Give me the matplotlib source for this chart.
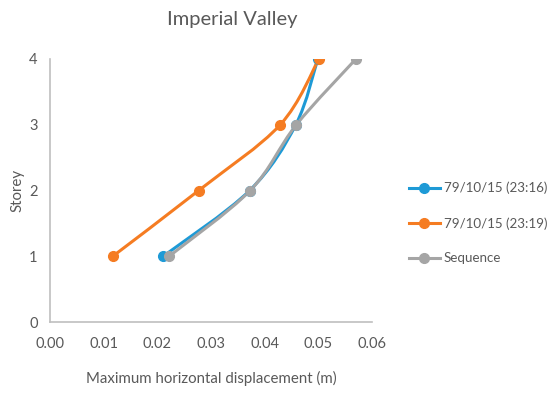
import matplotlib
matplotlib.use("Agg")
import matplotlib.pyplot as plt
from matplotlib.path import Path
from matplotlib.patches import PathPatch
from matplotlib.lines import Line2D

storeys = [1, 2, 3, 4]
disp_2316 = [0.0211, 0.0372, 0.0458, 0.0499]
disp_2319 = [0.0117, 0.0277, 0.0429, 0.0501]
disp_seq = [0.0222, 0.0373, 0.0459, 0.0570]
series_names = ["79/10/15 (23:16)", "79/10/15 (23:19)", "Sequence"]
colors = ["#1E9AD6", "#F57C22", "#A5A5A5"]
xticks = [0.00, 0.01, 0.02, 0.03, 0.04, 0.05, 0.06]
yticks = [0, 1, 2, 3, 4]

plt.rcParams['font.family'] = ['Lato', 'DejaVu Sans']
txt = "#595959"

fig = plt.figure(figsize=(5.5, 3.93), dpi=100)
ax = fig.add_axes([50/550, 1-322/393, 322/550, 263/393])


def smooth_path(xs, ys, t=1/6):
    pts = list(zip(xs, ys))
    n = len(pts)
    verts = [pts[0]]
    codes = [Path.MOVETO]
    for i in range(n - 1):
        p0 = pts[i - 1] if i > 0 else pts[i]
        p1 = pts[i]
        p2 = pts[i + 1]
        p3 = pts[i + 2] if i + 2 < n else pts[i + 1]
        c1 = (p1[0] + (p2[0] - p0[0]) * t, p1[1] + (p2[1] - p0[1]) * t)
        c2 = (p2[0] - (p3[0] - p1[0]) * t, p2[1] - (p3[1] - p1[1]) * t)
        verts += [c1, c2, p2]
        codes += [Path.CURVE4] * 3
    return Path(verts, codes)


data = [disp_2316, disp_2319, disp_seq]
handles = []
for xs, c, name in zip(data, colors, series_names):
    patch = PathPatch(smooth_path(xs, storeys), facecolor='none', edgecolor=c,
                      lw=2.2, transform=ax.transData, capstyle='round')
    ax.add_patch(patch)
    ax.plot(xs, storeys, linestyle='none', marker='o', ms=7, color=c)
    handles.append(Line2D([0], [0], color=c, lw=2.2, marker='o', ms=7, label=name))

ax.set_xlim(0, 0.06)
ax.set_ylim(0, 4)
ax.set_xticks(xticks)
ax.set_xticklabels([f"{v:.2f}" for v in xticks])
ax.set_yticks(yticks)
ax.tick_params(length=0, colors=txt, labelsize=10.5, pad=11)
ax.tick_params(axis='y', pad=9)
for s in ['top', 'right']:
    ax.spines[s].set_visible(False)
for s in ['left', 'bottom']:
    ax.spines[s].set_color('#BFBFBF')
    ax.spines[s].set_linewidth(1.2)

ax.set_xlabel("Maximum horizontal displacement (m)", color=txt, fontsize=10.8, va='center')
ax.set_ylabel("Storey", color=txt, fontsize=10.8, va='center')
ax.xaxis.set_label_coords(0.5, (322 - 378) / 263)
ax.yaxis.set_label_coords((17 - 50) / 322, 0.5)
fig.text(232/550, 1-20/393, "Imperial Valley", ha='center', va='center',
         fontsize=14.5, color=txt)

leg = fig.legend(handles=handles, loc='center left', bbox_to_anchor=(397/550, 1-223/393),
                 frameon=False, fontsize=9.6, handlelength=2.3, handletextpad=0.3,
                 labelspacing=1.7, labelcolor=txt)

fig.savefig("out.png", dpi=100)
